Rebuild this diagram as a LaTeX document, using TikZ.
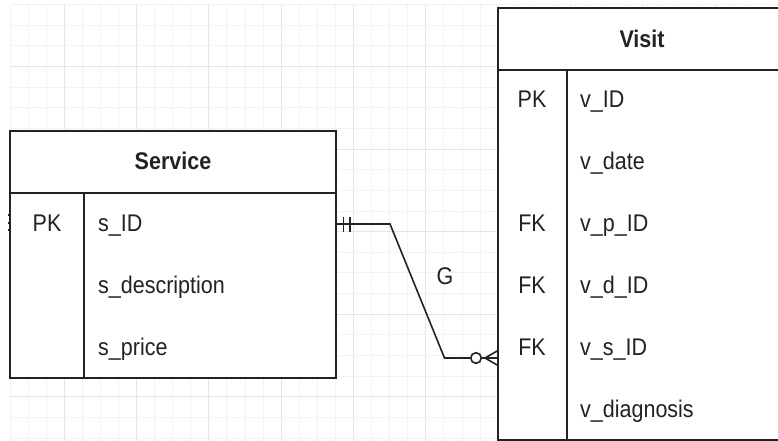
\documentclass[tikz,border=0pt]{standalone}
\usepackage{fontspec}
\setmainfont{Liberation Sans}
\usepackage{graphicx}
\usetikzlibrary{calc}
\definecolor{minorgrid}{HTML}{F3F3F3}
\definecolor{majorgrid}{HTML}{E5E5E5}
\definecolor{ink}{HTML}{222222}
\newcommand{\erTxt}[1]{\scalebox{1}[1.12]{#1}}
\tikzset{
  tbl/.style={draw=ink, line width=1.6pt},
  cell/.style={inner sep=0pt, text=ink, anchor=base, font=\fontsize{21.5}{24}\selectfont},
  celltitle/.style={inner sep=0pt, text=ink, anchor=base, font=\fontsize{21.5}{24}\selectfont\bfseries},
  conn/.style={draw=ink, line width=1.6pt},
}
\begin{document}
\begin{tikzpicture}[x=1pt,y=-1pt]
\useasboundingbox (0,0) rectangle (778,441);
\fill[white] (0,0) rectangle (778,441);
% grid
\foreach \k in {0,...,42}{
  \pgfmathsetmacro{\gx}{10+18.08*\k}
  \pgfmathtruncatemacro{\m}{mod(\k,4)}
  \ifnum\m=3 \draw[majorgrid, line width=1pt] (\gx,4.5) -- (\gx,441);
  \else \draw[minorgrid, line width=1pt] (\gx,4.5) -- (\gx,441); \fi
}
\foreach \k in {0,...,21}{
  \pgfmathsetmacro{\gy}{4.5+20.65*\k}
  \pgfmathtruncatemacro{\m}{mod(\k,4)}
  \ifnum\m=3 \draw[majorgrid, line width=1pt] (10,\gy) -- (778,\gy);
  \else \draw[minorgrid, line width=1pt] (10,\gy) -- (778,\gy); \fi
}
% Service table
\fill[white] (10,131) rectangle (336,378);
\draw[tbl] (10,131) rectangle (336,378);
\draw[tbl] (10,193) -- (336,193);
\draw[tbl] (84,193) -- (84,378);
\node[celltitle] (stitle) at (173,169.5) {\erTxt{Service}};
\node[cell] (spk) at (47,231.5) {\erTxt{PK}};
\node[cell, anchor=base west] (sid) at (98,231.5) {\erTxt{s\_ID}};
\node[cell, anchor=base west] (sdesc) at (98,293.5) {\erTxt{s\_description}};
\node[cell, anchor=base west] (sprice) at (98,355.5) {\erTxt{s\_price}};
\coordinate (sR) at (336,224);
% small marks at left edge
\foreach \yy in {215,223,230}{
  \draw[ink, line width=1.2pt] (8,\yy) -- (11,\yy);
}
% Visit table
\fill[white] (498,8) rectangle (790,440);
\draw[tbl] (790,8) -- (498,8) -- (498,440) -- (790,440);
\draw[tbl] (498,70) -- (790,70);
\draw[tbl] (567,70) -- (567,440);
\node[celltitle] (vtitle) at (642,47.5) {\erTxt{Visit}};
\node[cell] (vk1) at (532,107.5) {\erTxt{PK}};
\node[cell, anchor=base west] (v1) at (580,107.5) {\erTxt{v\_ID}};
\node[cell, anchor=base west] (v2) at (580,169.5) {\erTxt{v\_date}};
\node[cell] (vk3) at (532,231.5) {\erTxt{FK}};
\node[cell, anchor=base west] (v3) at (580,231.5) {\erTxt{v\_p\_ID}};
\node[cell] (vk4) at (532,293.5) {\erTxt{FK}};
\node[cell, anchor=base west] (v4) at (580,293.5) {\erTxt{v\_d\_ID}};
\node[cell] (vk5) at (532,355.5) {\erTxt{FK}};
\node[cell, anchor=base west] (v5) at (580,355.5) {\erTxt{v\_s\_ID}};
\node[cell, anchor=base west] (v6) at (580,417.5) {\erTxt{v\_diagnosis}};
\coordinate (vL) at (498,358);
% connector
\coordinate (b1) at (390,224);
\coordinate (b2) at (444.5,358);
\coordinate (circ) at (476,358);
\draw[conn] (sR) -- (b1) -- (b2) -- (circ);
\draw[conn] ($(circ)+(5.3,0)$) -- (vL);
% mandatory one bars
\draw[conn] (343.5,216.5) -- (343.5,231.5);
\draw[conn] (350,216.5) -- (350,231.5);
% zero-or-many
\draw[conn, fill=white] (circ) circle (5.3);
\draw[conn] (485,358) -- (498,350.5);
\draw[conn] (485,358) -- (498,365.5);
\node[cell] (glbl) at (445,284) {\erTxt{G}};
\end{tikzpicture}
\end{document}
